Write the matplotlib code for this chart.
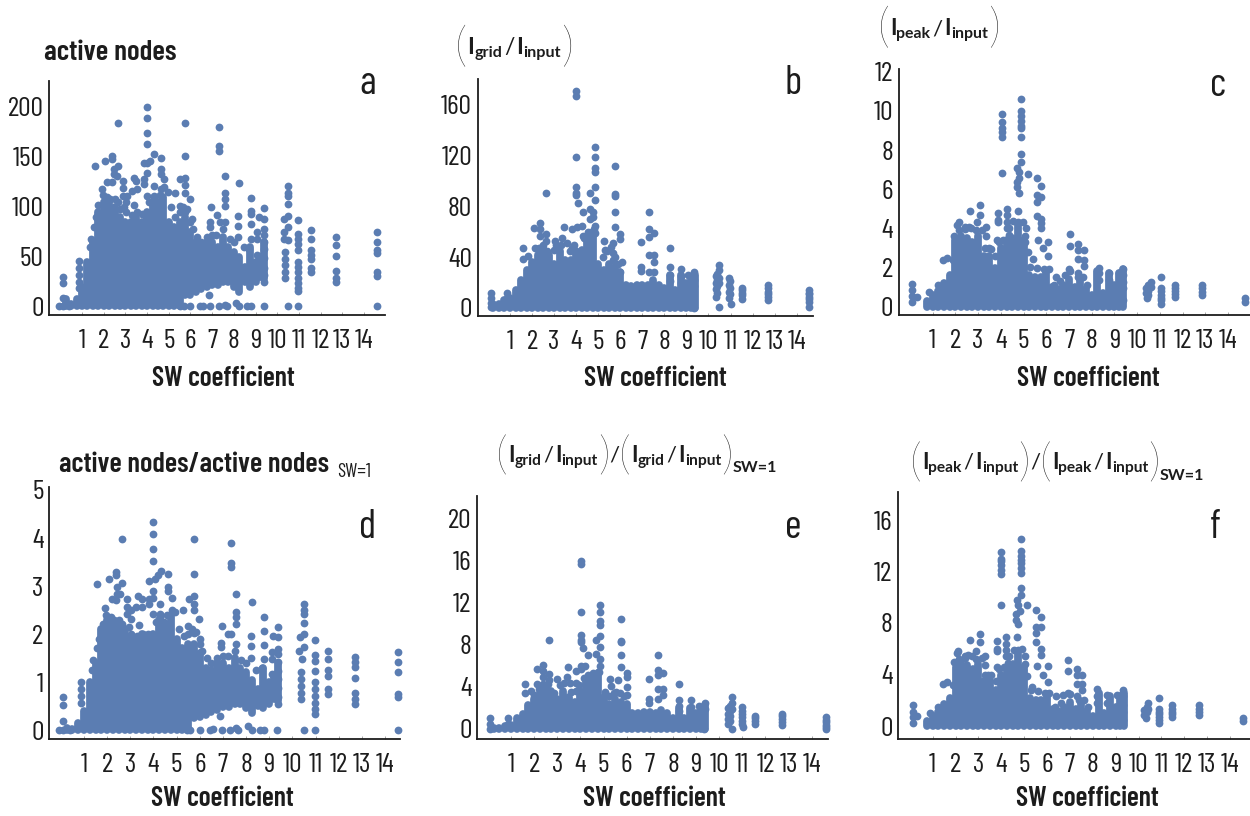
"""six scatter panels: SW coefficient against activity and current ratios"""

import matplotlib
matplotlib.use('Agg')
import matplotlib.pyplot as plt
import numpy as np

nan = float('nan')

# columns of the solid mass of points, same SW values in every panel
sw_dense = [0.25, 0.5, 0.75, 1, 1.25, 1.5, 1.75, 2, 2.25, 2.5, 2.75, 3, 3.25, 3.5, 3.75, 4, 4.25, 4.5, 4.75,
            5, 5.25, 5.5, 5.75, 6, 6.25, 6.5, 6.75, 7, 7.25, 7.5, 7.75, 8, 8.25, 8.5, 8.75, 9, 9.2, 9.38]
sw_ticks = [1, 2, 3, 4, 5, 6, 7, 8, 9, 10, 11, 12, 13, 14]

a_hi = [8, 3, 8, 20, 45, 65, 95, 105, 105, 100, 90, 85, 85, 90, 85, 95, 105, 105, 110,
        85, 80, 85, 90, 75, 65, 62, 65, 65, 60, 70, 60, 55, 50, 40, 60, 45, 50, 65]
a_lo = [0, 0, 0, 0, 0, 0, 0, 0, 0, 0, 0, 0, 0, 0, 0, 0, 0, 0, 0,
        0, 0, 0, 12, 12, 15, 18, 20, 22, 22, 25, 25, 20, 15, 25, 20, 25, 30, 28]
a_points = [(0.11, 30), (0.11, 24), (0.11, 9), (0.11, 0), (-0.08, 0), (0.38, 0), (0.88, 46), (0.88, 39), (0.88, 32),
            (0.88, 25), (0.88, 19), (1.58, 141), (2.08, 146), (2.38, 151), (2.38, 148), (1.9, 118), (2.65, 184),
            (2.65, 141), (2.46, 138), (2.46, 133), (2.6, 131), (2.15, 125), (2.38, 125), (2.9, 126), (2.9, 119),
            (2.9, 111), (3.38, 129), (3.5, 126), (3.54, 118), (3.3, 116), (3.08, 111), (3.38, 102), (3.05, 105),
            (4, 200), (4, 189), (4, 174), (4, 163), (3.85, 144), (4.12, 146), (4.34, 153), (4.66, 149), (4, 144),
            (4, 134), (3.85, 128), (3.85, 123), (4.3, 121), (4.66, 138), (4.66, 133), (4.77, 128), (4.66, 118),
            (4, 111), (4.3, 111), (4.46, 98), (5.3, 114), (5.74, 184), (5.74, 151), (5.74, 129), (5.54, 128),
            (5.74, 122), (5.74, 114), (6, 108), (5.54, 101), (5.74, 95), (6.08, 88), (7.3, 180), (7.3, 161),
            (7.3, 156), (7.57, 131), (7.57, 114), (7.57, 108), (7.57, 101), (6.95, 100), (7.23, 92), (6.9, 85),
            (6.9, 80), (7.38, 85), (7.57, 85), (8.23, 124), (8.18, 91), (8.18, 81), (8.77, 109), (8.77, 96),
            (8.77, 93), (8.77, 83), (8.77, 68), (9.15, 90), (9.38, 99), (9.38, 88), (9.38, 78), (9.38, 72),
            (9.08, 75), (9.08, 68), (9.38, 65), (9.38, 58), (9.38, 49), (9.38, 39), (9.38, 32), (9.38, 25),
            (9.08, 52), (8.7, 58), (9.38, 0), (8.77, 0), (8.6, 0), (8.1, 4), (8.23, 0), (7.57, 2), (7.3, 0),
            (7.7, 0), (6.9, 0), (6.6, 1), (6.45, 1), (6, 0), (5.54, 0), (5.7, 0), (6.85, 12), (10.5, 121),
            (10.5, 114), (10.5, 111), (10.5, 103), (10.5, 91), (10.3, 88), (10.5, 80), (10.3, 75), (10.3, 68),
            (10.5, 67), (10.35, 55), (10.35, 48), (10.35, 42), (10.35, 35), (10.35, 29), (10.5, 0), (10.98, 87),
            (10.98, 73), (10.98, 68), (10.98, 63), (10.98, 57), (10.98, 45), (10.98, 40), (10.98, 35), (10.98, 29),
            (10.98, 24), (10.98, 19), (10.98, 16), (10.98, 0), (11.54, 77), (11.54, 68), (11.54, 57), (11.54, 52),
            (11.54, 48), (11.54, 39), (11.54, 35), (12.72, 70), (12.72, 62), (12.72, 51), (12.72, 36), (12.72, 29),
            (12.72, 25), (14.6, 75), (14.6, 65), (14.6, 57), (14.6, 54), (14.6, 35), (14.6, 31), (14.6, 0),
            (1.35, 60), (1.4, 68), (1.55, 80), (1.65, 90), (1.75, 102), (1.95, 112), (2.15, 110), (2.3, 108),
            (2.5, 108), (2.65, 105), (2.75, 98), (2.95, 100), (3.05, 95), (3.3, 92), (3.55, 95), (3.75, 93),
            (3.95, 88), (4.1, 105), (4.3, 110), (4.45, 105), (4.6, 112), (4.8, 120), (4.95, 115), (5.1, 100),
            (5.3, 90), (5.5, 95), (5.65, 100), (5.85, 98), (6, 85), (6.1, 78), (6.3, 70), (6.5, 65), (6.75, 70),
            (7, 72), (7.2, 72), (7.5, 78), (7.8, 68), (8, 65), (8.2, 70), (8.45, 60)]

b_hi = [3, 3, 6, 8, 14, 22, 30, 36, 42, 48, 42, 35, 45, 38, 38, 45, 46, 55, 60,
        35, 30, 35, 32, 28, 18, 17, 18, 18, 18, 22, 18, 16, 26, 14, 26, 20, 22, 26]
b_points = [(3.98, 171), (3.98, 167), (3.98, 119), (3.98, 95), (3.98, 91), (3.98, 89), (4.1, 83), (2.63, 91),
            (4.84, 127), (4.84, 119), (4.84, 110), (4.84, 107), (4.84, 95), (4.63, 91), (4.84, 85), (4.32, 76),
            (4.65, 78), (5.74, 112), (5.74, 90), (5.74, 88), (5.74, 76), (5.74, 64), (6, 58), (6, 54), (6.06, 36),
            (5.28, 53), (5.65, 51), (5.3, 46), (5.65, 43), (5.65, 38), (2.1, 63), (2.36, 67), (2.36, 62), (2.36, 57),
            (2.63, 58), (2.63, 53), (2.14, 47), (1.57, 47), (1.57, 39), (1.83, 41), (3.04, 53), (3, 46), (3.46, 64),
            (3.34, 55), (3.57, 51), (3.8, 62), (4.02, 64), (4.25, 65), (3.8, 47), (4.32, 57), (4.63, 70), (4.78, 76),
            (4.78, 72), (4.84, 65), (4.84, 59), (6.92, 52), (6.92, 32), (6.92, 29), (7.3, 76), (7.3, 62), (7.3, 56),
            (7.54, 59), (7.3, 42), (7.54, 42), (7.54, 36), (7.3, 28), (7.54, 28), (8.25, 47), (8.25, 32), (8.25, 26),
            (8.25, 21), (8.75, 31), (8.75, 25), (8.75, 20), (9.08, 26), (9.08, 20), (9.34, 28), (9.34, 22), (9.34, 17),
            (9.34, 0), (10.47, 34), (10.47, 30), (10.33, 25), (10.47, 24), (10.33, 20), (10.47, 20), (10.33, 15),
            (10.33, 9), (10.47, 1), (10.93, 24), (10.93, 18), (10.93, 13), (10.93, 8), (11, 3), (11.5, 16), (11.5, 12),
            (11.5, 7), (12.7, 18), (12.7, 13), (12.7, 9), (12.7, 6), (14.57, 14), (14.57, 11), (14.57, 7), (14.57, 1),
            (0.12, 12), (0.12, 8), (0.12, 4), (0.12, 1), (0.88, 12), (0.88, 8), (0.88, 4),
            (10.4, 27), (10.4, 22), (10.4, 17), (10.4, 12), (10.98, 21), (10.98, 16), (10.98, 11), (11.5, 14), (11.5, 10),
            (12.7, 16), (12.7, 11), (14.57, 12), (14.57, 9), (14.57, 5),
            (2.3, 47), (2.5, 50), (2.7, 45), (3.1, 50), (3.3, 50), (3.7, 45), (3.9, 50), (4.2, 45), (4.35, 55), (4.55, 60),
            (4.8, 62), (5.2, 40), (5.4, 45), (5.6, 48), (5.75, 40), (5.9, 35), (6, 28)]

c_hi = [nan, nan, 0.3, 0.6, 0.8, 1.2, 1.6, 3.4, 3.6, 3.5, 3.3, 3.6, 2.6, 2.6, 2, 3, 3.4, 3.5, 4.2,
        3.4, 1.6, 1.5, 1.5, 1.8, 1, 0.9, 1.1, 1.4, 1, 1.4, 0.9, 0.6, 1.8, 0.7, 1.7, 1.1, 1.7, 1.9]
c_points = [(0.11, 1.15), (0.11, 0.85), (0.11, 0.55), (0.11, 0.25), (0.29, 0.5), (0.85, 0.75), (1.25, 1.1), (1.45, 2.4),
            (1.65, 2.5), (2.14, 4.3), (2.07, 4.15), (1.95, 3.6), (2.44, 4.05), (2.66, 4.9), (2.6, 4.05), (3.1, 5.2),
            (3.1, 4.7), (2.93, 4.3), (3.33, 4.05), (3.33, 3.6), (3.48, 3), (4.03, 9.85), (4.03, 9.45), (4.03, 9.15),
            (4.03, 8.9), (4.03, 8.65), (4.03, 6.85), (3.88, 4.8), (3.88, 4.45), (3.88, 4.3), (4.25, 5), (4.25, 4.7),
            (4.25, 4.35), (4.25, 4), (4.37, 3.65), (3.85, 3.4), (4.88, 10.6), (4.88, 10), (4.88, 9.75), (4.88, 9.5),
            (4.88, 9.25), (4.88, 9.1), (4.88, 8.65), (4.88, 7.8), (4.88, 7.4), (4.72, 7.1), (4.82, 6.9), (4.82, 6.55),
            (4.72, 6.35), (4.72, 6.1), (4.8, 5.8), (5.19, 6.8), (5.59, 6.55), (5.78, 6.15), (5.59, 5.7), (5.78, 5.6),
            (5.59, 5.35), (5.59, 4.65), (5.78, 4.5), (5.78, 4.25), (5.78, 4), (4.75, 4.9), (4.97, 4.3), (5.1, 4),
            (5.05, 3.3), (5.64, 3.4), (6.08, 3.3), (5.85, 3), (6.08, 2.6), (5.19, 2.8), (5.41, 2.45), (7.05, 3.7),
            (7.05, 3.1), (7.39, 3.2), (7.39, 2.9), (7.64, 2.9), (7.39, 2.45), (7.64, 2.37), (7.64, 2.1), (7.39, 1.7),
            (6.45, 1.5), (6.83, 1.6), (7.05, 1.8), (8.3, 2), (8.3, 1.7), (8.3, 1.35), (8.76, 1.7), (8.76, 1.35),
            (9.2, 1.7), (9.38, 1.95), (9.38, 1.6), (9.38, 1.27), (9.38, 0.93), (9.38, 0.34), (10.6, 1.27), (10.6, 1),
            (10.4, 0.93), (10.4, 0.68), (10.45, 0.42), (11.06, 1.53), (11.06, 0.97), (11.06, 0.6), (11.06, 0.34),
            (11.06, 0.12), (11.65, 1.1), (11.65, 0.8), (11.65, 0.5), (12.84, 1.1), (12.84, 0.76), (12.84, 0.6),
            (14.77, 0.42), (14.77, 0.25),
            (10.5, 1.1), (10.5, 0.8), (10.5, 0.6), (11.06, 0.8), (11.06, 0.45), (11.65, 0.95), (11.65, 0.65), (12.84, 0.95),
            (1.9, 2.4), (2.15, 3.9), (2.4, 3.95), (2.7, 4), (2.9, 3.9), (3.15, 3.9), (3.3, 3), (3.55, 2.95), (3.75, 2.6),
            (3.9, 3.3), (4.1, 3.4), (4.35, 4), (4.55, 4.4), (4.75, 4.35), (5.05, 3.6), (5.3, 2.05), (5.6, 2), (5.9, 1.9),
            (6.1, 1.9), (6.35, 1.1), (6.6, 1.3), (7, 1.9), (7.4, 1.5), (7.6, 1.5), (7.8, 1.1)]

d_hi = [0.05, 0.03, 0.15, 0.4, 1, 1.4, 2.1, 2.3, 2.25, 2.2, 2, 1.9, 1.9, 2, 1.9, 2, 2.3, 2.2, 2.4,
        1.9, 1.7, 1.8, 1.8, 1.6, 1.3, 1.25, 1.4, 1.4, 1.3, 1.5, 1.3, 1.2, 1.05, 0.85, 1.3, 1, 1.1, 1.4]
d_lo = [0, 0, 0, 0, 0, 0, 0, 0, 0, 0, 0, 0, 0, 0, 0, 0, 0, 0, 0,
        0, 0, 0, 0.25, 0.28, 0.32, 0.38, 0.42, 0.47, 0.47, 0.55, 0.55, 0.45, 0.35, 0.5, 0.45, 0.55, 0.65, 0.6]
d_points = [(0.11, 0.68), (0.11, 0.52), (0.11, 0.19), (0.11, 0), (-0.1, 0), (0.4, 0), (0.86, 1), (0.86, 0.85),
            (0.86, 0.7), (0.86, 0.57), (1.58, 3.04), (2.08, 3.15), (2.38, 3.29), (2.38, 3.23), (1.9, 2.54), (2.64, 3.98),
            (2.64, 3.06), (2.42, 2.97), (2.42, 2.83), (2.57, 2.83), (2.2, 2.73), (2.38, 2.7), (2.87, 2.73), (2.87, 2.56),
            (2.87, 2.42), (3.33, 2.8), (3.49, 2.73), (3.49, 2.56), (3.25, 2.56), (3.05, 2.49), (3.39, 2.19), (3.03, 2.31),
            (3.99, 4.33), (3.99, 4.09), (3.99, 3.77), (3.99, 3.53), (3.81, 3.11), (4.06, 3.15), (4.18, 3.22), (4.32, 3.31),
            (4.64, 3.24), (3.99, 2.9), (3.99, 2.76), (3.81, 2.73), (3.81, 2.63), (4.28, 2.63), (4.64, 2.97), (4.64, 2.9),
            (4.78, 2.76), (3.99, 2.42), (4.28, 2.42), (4.42, 2.07), (5.29, 2.49), (5.75, 3.98), (5.75, 3.25), (5.75, 2.8),
            (5.53, 2.73), (5.75, 2.63), (5.75, 2.49), (5.98, 2.31), (5.5, 2.17), (5.75, 2.03), (6, 1.9), (7.33, 3.9),
            (7.33, 3.47), (7.33, 3.39), (7.56, 2.83), (7.56, 2.45), (7.56, 2.35), (7.56, 2.2), (6.94, 2.16), (7.23, 2),
            (6.9, 1.82), (6.9, 1.72), (7.37, 2), (7.56, 1.79), (8.24, 2.67), (8.2, 1.96), (8.2, 1.75), (8.78, 2.35),
            (8.78, 2.07), (8.78, 1.77), (8.78, 1.48), (9.17, 1.96), (9.39, 2.14), (9.39, 1.94), (9.39, 1.68), (9.39, 1.58),
            (9.1, 1.62), (9.1, 1.48), (9.39, 1.41), (9.39, 1.23), (9.39, 1.06), (9.39, 0.88), (9.39, 0.68), (9.39, 0.54),
            (9.1, 1.16), (8.67, 1.3), (9.32, 0), (8.78, 0), (8.62, 0), (8.09, 0.08), (8.24, 0), (7.56, 0.05), (7.3, 0),
            (7.66, 0), (6.94, 0), (6.58, 0.03), (6.44, 0), (6, 0), (5.58, 0), (5.43, 0), (6.87, 0.29), (10.5, 2.62),
            (10.5, 2.49), (10.5, 2.42), (10.5, 2.23), (10.32, 1.93), (10.5, 2), (10.28, 1.65), (10.5, 1.72), (10.4, 1.48),
            (10.36, 1.2), (10.36, 1.06), (10.36, 0.92), (10.36, 0.78), (10.36, 0.64), (10.5, 0), (10.97, 1.87), (10.97, 1.57),
            (10.97, 1.44), (10.97, 1.23), (10.97, 1), (10.97, 0.85), (10.97, 0.71), (10.97, 0.57), (10.97, 0.43),
            (10.97, 0.33), (10.97, 0), (11.52, 1.65), (11.52, 1.48), (11.52, 1.25), (11.52, 1.13), (11.52, 0.85),
            (11.52, 0.75), (12.7, 1.52), (12.7, 1.41), (12.7, 1.32), (12.7, 1.09), (12.7, 0.78), (12.7, 0.64), (12.7, 0.54),
            (14.57, 1.63), (14.57, 1.41), (14.57, 1.2), (14.57, 0.75), (14.57, 0.68), (14.57, 0),
            (1.35, 1.25), (1.4, 1.45), (1.55, 1.7), (1.65, 1.9), (1.8, 2.2), (1.95, 2.4), (2.15, 2.35), (2.3, 2.3), (2.5, 2.3),
            (2.65, 2.2), (2.75, 2.1), (2.95, 2.15), (3.05, 2), (3.3, 1.95), (3.55, 2), (3.75, 2), (3.95, 1.9), (4.1, 2.25),
            (4.3, 2.35), (4.45, 2.25), (4.6, 2.4), (4.8, 2.5), (4.95, 2.45), (5.1, 2.1), (5.3, 1.95), (5.5, 2), (5.65, 2.1),
            (5.85, 2.05), (6, 1.8), (6.1, 1.65), (6.3, 1.5), (6.5, 1.4), (6.75, 1.5), (7, 1.55), (7.2, 1.55), (7.5, 1.65),
            (7.8, 1.45), (8, 1.4), (8.2, 1.5), (8.45, 1.25)]

e_hi = [0.1, 0.1, 0.3, 0.4, 1, 1.4, 2.3, 2.8, 3.4, 4, 3.6, 2.8, 3.6, 3, 2.6, 3.6, 4.6, 4.8, 5,
        3, 2.4, 2.8, 2.6, 2.4, 1.5, 1.5, 1.6, 1.6, 1.5, 1.8, 1.5, 1, 2, 1, 2, 1.5, 1.9, 2.3]
e_points = [(0.11, 1), (0.11, 0.5), (0.11, 0), (0.88, 1), (0.88, 0.5), (2.63, 8.4), (1.6, 4.3), (1.6, 3.4), (1.85, 3.6),
            (2.14, 5.7), (2.4, 6.1), (2.4, 5.5), (2.4, 4.9), (2.66, 5.2), (2.66, 4.6), (2.14, 4.3), (3, 4.7), (3.48, 5.85),
            (3.4, 4.9), (3.55, 4.4), (3.8, 5.5), (4.03, 5.7), (4.03, 6), (4.2, 6), (3.8, 4.4), (4.02, 15.9), (4.02, 15.6),
            (4.02, 11.1), (4.02, 8.9), (4.02, 8.4), (4.02, 8.2), (4.13, 7.7), (4.34, 7), (4.86, 11.8), (4.86, 11.1),
            (4.86, 10.2), (4.86, 9.9), (4.86, 8.8), (4.67, 8.4), (4.86, 7.8), (4.67, 7.1), (4.86, 6.6), (4.86, 6), (4.75, 5.4),
            (5.75, 10.4), (5.75, 8.3), (5.75, 8.2), (5.75, 7), (5.75, 5.85), (6, 5.3), (6, 4.9), (6, 4), (6.03, 3.2),
            (5.3, 4.75), (5.64, 4.6), (5.34, 4.1), (5.56, 3.5), (6.97, 4.7), (6.97, 2.8), (6.97, 2.5), (7.34, 7), (7.34, 5.6),
            (7.34, 5.1), (7.57, 5.3), (7.34, 3.8), (7.57, 3.8), (7.57, 3.2), (7.34, 2.85), (8.28, 4.3), (8.28, 2.75),
            (8.28, 2.2), (8.28, 1.75), (8.79, 2.75), (8.79, 2.05), (8.79, 1.6), (9.13, 2.2), (9.4, 2.45), (9.4, 1.9),
            (9.35, 0), (10.54, 3), (10.54, 2.5), (10.36, 2), (10.54, 1.9), (10.36, 1.4), (10.36, 0.95), (10.36, 0.5),
            (10.54, 0), (10.98, 2.05), (10.98, 1.4), (10.98, 0.8), (11.05, 0.2), (11.56, 1.25), (11.56, 0.8), (11.56, 0.5),
            (12.72, 1.4), (12.72, 0.95), (12.72, 0.4), (14.63, 1.1), (14.63, 0.65), (14.63, 0.15), (14.63, 0),
            (10.45, 2.2), (10.45, 1.7), (10.45, 1.2), (10.45, 0.8), (10.98, 1.7), (10.98, 1.1), (10.98, 0.5), (11.56, 1), (12.72, 1.2),
            (12.72, 0.7), (14.63, 0.9), (14.63, 0.4),
            (2, 3.2), (2.2, 3.8), (2.4, 4.3), (2.6, 4.3), (2.85, 3.4), (3.1, 4.2), (3.3, 4.4), (3.6, 3.5), (3.8, 3.6), (3.95, 4.2),
            (4.15, 4.8), (4.35, 5.1), (4.55, 5.3), (4.8, 5.4), (5.05, 3.5), (5.25, 3.1), (5.45, 3.4), (5.7, 3.4), (5.9, 3.1)]

f_hi = [nan, nan, 0.4, 0.8, 1.1, 1.7, 2.2, 4.6, 4.9, 4.7, 4.4, 4.8, 3.5, 3.5, 2.8, 4, 4.6, 4.8, 5.6,
        4.6, 2.2, 2, 2, 2.5, 1.3, 1.2, 1.5, 1.9, 1.3, 1.9, 1.2, 0.8, 2.6, 1, 2.3, 1.5, 2.3, 2.6]
f_points = [(0.13, 1.6), (0.13, 1.1), (0.13, 0.7), (0.13, 0.25), (0.3, 0.8), (0.88, 1), (1.25, 1.45), (1.44, 3.25),
            (1.64, 3.4), (2.12, 5.85), (2.05, 5.65), (1.93, 5), (2.41, 5.4), (2.63, 6.7), (2.56, 5.5), (3.07, 7.15),
            (3.07, 6.55), (2.9, 5.8), (3.29, 5.4), (3.29, 4.75), (3.43, 4), (3.97, 13.5), (3.97, 13), (3.97, 12.8),
            (3.97, 12.5), (3.97, 12.1), (3.97, 11.8), (3.97, 9.4), (3.83, 6.6), (3.83, 6), (3.83, 5.85), (4.2, 6.9),
            (4.2, 6.4), (4.2, 5.9), (4.2, 5.4), (4.31, 4.87), (3.8, 4.6), (4.85, 14.55), (4.85, 13.6), (4.85, 13.2),
            (4.85, 12.9), (4.85, 12.65), (4.85, 12.3), (4.85, 11.9), (4.85, 10.75), (4.85, 10.2), (4.67, 9.8), (4.75, 9.4),
            (4.82, 8.9), (4.65, 8.7), (4.65, 8.25), (4.75, 7.9), (5.11, 9.4), (5.52, 9), (5.72, 8.45), (5.52, 7.7),
            (5.72, 7.7), (5.52, 7.2), (5.52, 6.55), (5.72, 6), (5.72, 5.5), (4.67, 6.9), (4.89, 6), (5.04, 5.4), (4.97, 4.35),
            (5.55, 4.65), (6.06, 4.65), (5.81, 4), (6.02, 3.45), (5.11, 3.85), (5.33, 3.05), (6.93, 5.15), (6.93, 4.3),
            (7.3, 4.45), (7.3, 4), (7.52, 4), (7.3, 3.3), (7.52, 3.3), (7.52, 2.8), (7.3, 2.3), (6.38, 2.3), (6.7, 2.4),
            (6.93, 2.55), (8.2, 2.85), (8.2, 2.3), (8.2, 1.75), (8.6, 2.4), (8.6, 1.75), (9.05, 2.4), (9.34, 2.8), (9.34, 2.3),
            (9.34, 1.65), (9.34, 1.1), (9.34, 0.5), (10.43, 1.8), (10.43, 1.35), (10.24, 1.25), (10.24, 0.85), (10.33, 0.6),
            (10.91, 2.2), (10.91, 1.35), (10.91, 0.7), (10.91, 0.45), (10.91, 0.2), (11.48, 1.6), (11.48, 1.1), (11.48, 0.7),
            (12.66, 1.6), (12.66, 1.1), (12.66, 0.85), (14.56, 0.65), (14.56, 0.4),
            (10.35, 1.5), (10.35, 1.05), (10.91, 1.05), (10.91, 0.9), (11.48, 1.35), (11.48, 0.9), (12.66, 1.35),
            (1.9, 3.2), (2.15, 5.2), (2.4, 5.3), (2.7, 5.4), (2.9, 5.2), (3.15, 5.3), (3.3, 4), (3.55, 4), (3.75, 3.5),
            (3.9, 4.4), (4.1, 4.6), (4.35, 5.4), (4.55, 5.9), (4.75, 5.9), (5.05, 4.8), (5.3, 2.8), (5.6, 2.7), (5.9, 2.6),
            (6.1, 2.6), (6.35, 1.5), (6.6, 1.8), (7, 2.5), (7.4, 2), (7.6, 2), (7.8, 1.5)]

a_yticks = [0, 50, 100, 150, 200]
b_yticks = [0, 40, 80, 120, 160]
c_yticks = [0, 2, 4, 6, 8, 10, 12]
d_yticks = [0, 1, 2, 3, 4, 5]
e_yticks = [0, 4, 8, 12, 16, 20]
f_yticks = [0, 4, 8, 12, 16]

W, H = 1250, 816
BLUE = '#5b7db2'
INK = '#1c1c1c'
NARROW = ['Barlow Condensed', 'Liberation Sans', 'DejaVu Sans']
CURVY = ['Lato', 'DejaVu Sans']
DOT = 5.6

fig = plt.figure(figsize=(W / 100, H / 100), dpi=100)
fig.patch.set_facecolor('white')


def make_panel(box, tick1, tick14, zero_y, top_val, top_y, yticks, hi, lo, points, letter, letter_x, letter_y,
               xlabel_x, xlabel_y):
    """box = left, top, right, bottom of the axes in picture pixels"""
    left, top, right, bottom = box
    ax = fig.add_axes([left / W, 1 - bottom / H, (right - left) / W, (bottom - top) / H])
    per_x = (tick14 - tick1) / 13
    per_y = (zero_y - top_y) / top_val
    ax.set_xlim(1 + (left - tick1) / per_x, 1 + (right - tick1) / per_x)
    ax.set_ylim((zero_y - bottom) / per_y, (zero_y - top) / per_y)

    ax.vlines(sw_dense, lo, hi, color=BLUE, lw=DOT, capstyle='round', zorder=2)
    xs = [p[0] for p in points]
    ys = [p[1] for p in points]
    ax.scatter(xs, ys, s=DOT ** 2, color=BLUE, linewidths=0, zorder=3, clip_on=False)

    for side in ['top', 'right']:
        ax.spines[side].set_visible(False)
    for side in ['left', 'bottom']:
        ax.spines[side].set_linewidth(1.3)
        ax.spines[side].set_color(INK)
    ax.set_xticks(sw_ticks)
    ax.set_xticklabels([str(t) for t in sw_ticks], family=NARROW, fontsize=20, color=INK)
    ax.set_yticks(yticks)
    ax.set_yticklabels([str(t) for t in yticks], family=NARROW, fontsize=20, color=INK)
    ax.tick_params(axis='x', direction='in', length=2, width=0.6, color='#999999', pad=10)
    ax.tick_params(axis='y', length=0, pad=4)

    fig.text(letter_x / W, 1 - letter_y / H, letter, family=NARROW, fontsize=29, color=INK, ha='center', va='center')
    fig.text(xlabel_x / W, 1 - xlabel_y / H, 'SW coefficient', family=NARROW, fontsize=20, fontweight=600,
             color=INK, ha='center', va='center')


def put_tokens(x, y, tokens):
    """write text pieces one after the other from pixel x, baseline pixel y"""
    renderer = fig.canvas.get_renderer()
    for s, size, weight, drop, gap in tokens:
        t = fig.text((x + gap) / W, 1 - (y + drop) / H, s, family=CURVY, fontsize=size, fontweight=weight,
                     color=INK, ha='left', va='baseline')
        x = x + gap + t.get_window_extent(renderer).width
    return x


def ratio_tokens(sub, k):
    return [('(', 36 * k, 'light', 7, 0), ('I', 17 * k, 'bold', 0, 0), (sub, 12 * k, 'bold', 3, 0),
            ('/', 17 * k, 'normal', 0, 2), ('I', 17 * k, 'bold', 0, 2), ('input', 12 * k, 'bold', 3, 0),
            (')', 36 * k, 'light', 7, 0)]


make_panel((49, 81, 385, 315), 82, 364, 306.5, 200, 107, a_yticks, a_hi, a_lo, a_points, 'a', 368, 84, 223, 378)
make_panel((477.5, 79, 813, 316), 510, 796.7, 308, 160, 105, b_yticks, b_hi, 0, b_points, 'b', 793, 84, 655, 378)
make_panel((898.7, 69, 1250, 315), 932.7, 1228, 306.7, 12, 71.7, c_yticks, c_hi, 0, c_points, 'c', 1218, 85, 1088, 378)
make_panel((49, 487, 400, 738.7), 84, 385, 730, 5, 490, d_yticks, d_hi, d_lo, d_points, 'd', 368, 527, 222, 799)
make_panel((477, 495.7, 828, 738.7), 511, 811.7, 729, 20, 518, e_yticks, e_hi, 0, e_points, 'e', 793, 527, 654, 799)
make_panel((898, 492, 1250, 738.7), 932.7, 1230, 726, 16, 520, f_yticks, f_hi, 0, f_points, 'f', 1215, 527, 1087, 799)

fig.canvas.draw()

# titles
fig.text(44 / W, 1 - 53 / H, 'active nodes', family=NARROW, fontsize=21, fontweight=600, color=INK, va='center')
fig.text(59 / W, 1 - 465 / H, 'active nodes/active nodes', family=NARROW, fontsize=20.5, fontweight=600, color=INK,
         va='center')
fig.text(337 / W, 1 - 472 / H, 'SW=1', family=NARROW, fontsize=14, color=INK, va='center')

put_tokens(455, 54, ratio_tokens('grid', 0.97))
put_tokens(878, 35, ratio_tokens('peak', 0.95))
end = put_tokens(496, 462, ratio_tokens('grid', 0.93) + [('/', 16, 'normal', 0, 0)] + ratio_tokens('grid', 0.93))
put_tokens(end, 472, [('SW=1', 11.5, 'bold', 0, 0)])
end = put_tokens(910, 469, ratio_tokens('peak', 0.93) + [('/', 16, 'normal', 0, 0)] + ratio_tokens('peak', 0.93))
put_tokens(end, 480, [('SW=1', 11.5, 'bold', 0, 0)])

fig.savefig('out.png', dpi=100)
